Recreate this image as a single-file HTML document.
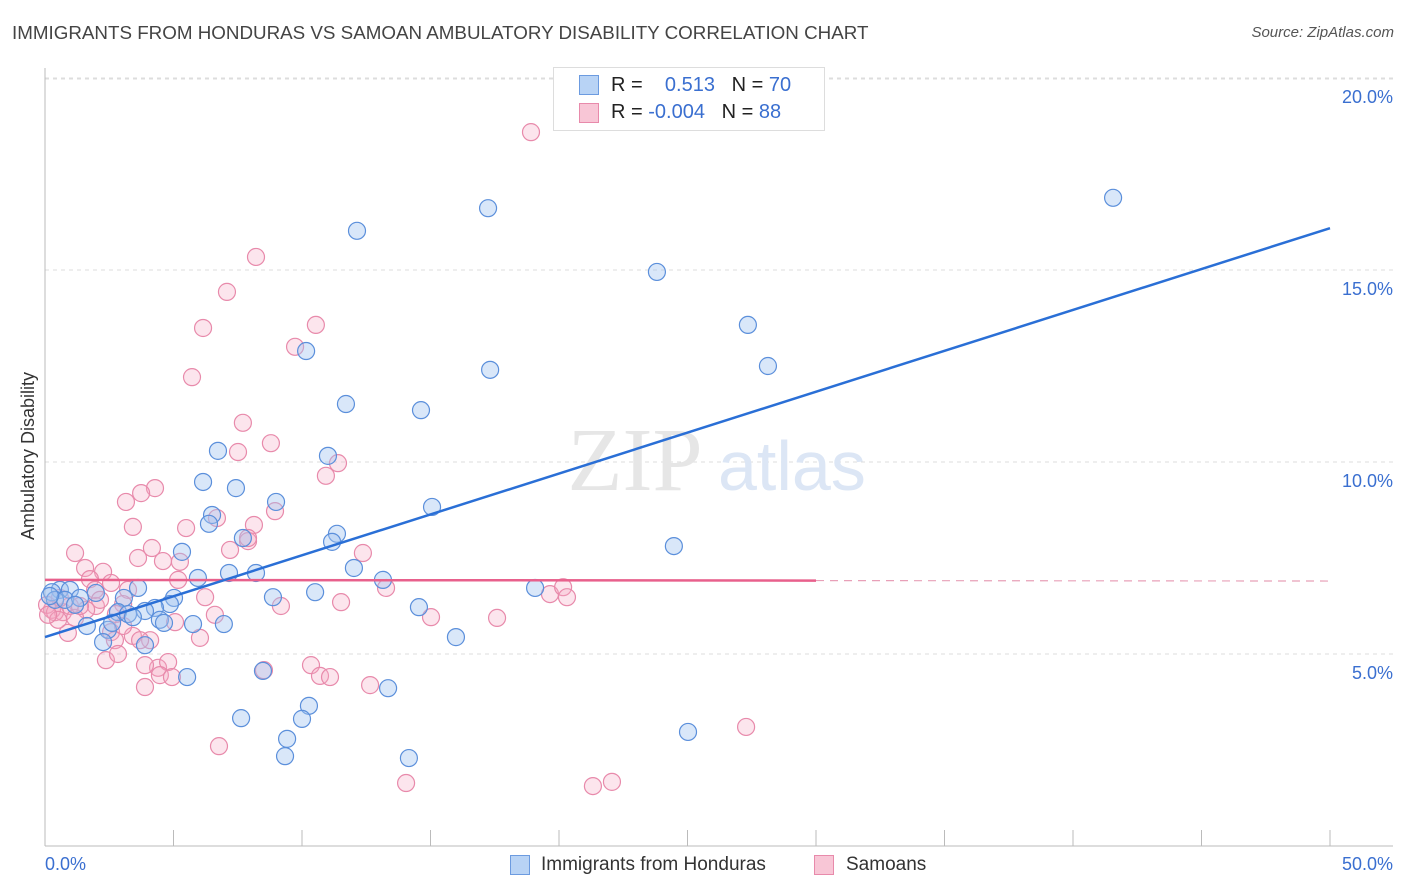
<!DOCTYPE html>
<html><head><meta charset="utf-8"><style>
body{margin:0;background:#fff;font-family:"Liberation Sans",sans-serif;}
#wrap{position:relative;width:1406px;height:892px;overflow:hidden;}
.t{position:absolute;white-space:nowrap;}
</style></head><body>
<div id="wrap">
<div class="t" style="left:12px;top:22px;font-size:18.8px;color:#444;">IMMIGRANTS FROM HONDURAS VS SAMOAN AMBULATORY DISABILITY CORRELATION CHART</div>
<div class="t" style="right:12px;top:24px;font-size:15px;color:#555;font-style:italic;">Source: ZipAtlas.com</div>
<svg id="chart" width="1406" height="892" style="position:absolute;left:0;top:0"></svg>
</div>
<script>
const xTicks=[0,5,10,15,20,25,30,35,40,45,50];
const yTicks=[5,10,15,20];
const yTickLabels=["5.0%","10.0%","15.0%","20.0%"];
const blueX=[41.56,17.24,12.14,23.81,27.35,28.13,10.16,17.32,11.71,14.63,6.73,11.01,6.15,7.43,8.99,15.06,6.50,6.38,7.70,11.36,11.17,24.47,5.33,12.02,7.16,8.21,5.95,13.15,3.62,10.51,19.07,8.87,5.02,4.86,14.55,3.07,4.28,3.89,2.84,3.23,3.42,4.47,4.63,5.76,6.96,1.63,2.45,2.26,3.89,15.99,0.58,0.27,0.97,0.39,0.78,1.98,1.36,5.53,8.48,13.35,7.63,10.27,10.00,9.42,14.16,9.34,25.02,2.61,0.19,1.17];
const blueY=[16.88,16.61,16.02,14.95,13.57,12.5,12.89,12.40,11.51,11.35,10.29,10.16,9.48,9.32,8.96,8.83,8.62,8.39,8.02,8.13,7.92,7.81,7.66,7.24,7.11,7.11,6.98,6.93,6.72,6.61,6.72,6.48,6.46,6.30,6.22,6.46,6.20,6.12,6.09,6.04,5.96,5.89,5.81,5.78,5.78,5.73,5.63,5.31,5.23,5.44,6.67,6.61,6.67,6.41,6.41,6.59,6.46,4.40,4.56,4.11,3.33,3.65,3.31,2.79,2.29,2.34,2.97,5.81,6.51,6.28];
const pinkX=[18.91,8.21,7.08,6.15,10.54,9.73,5.72,7.70,8.79,7.51,11.40,10.93,4.28,3.74,3.15,6.69,8.95,3.42,5.49,8.13,7.90,7.20,4.16,1.17,3.62,4.59,5.25,12.37,7.90,1.56,2.26,1.75,5.18,2.57,3.23,6.23,13.27,19.65,20.16,20.31,11.52,9.18,1.98,3.04,1.60,0.70,0.27,0.08,0.97,2.76,6.61,15.02,17.59,5.06,1.17,3.42,2.57,0.89,4.09,6.03,2.72,2.37,2.84,4.40,3.89,4.79,4.47,4.94,8.52,10.35,10.70,11.09,12.65,3.89,6.77,14.05,21.32,22.06,27.28,0.39,0.58,1.36,1.95,3.04,3.70,0.51,0.12,2.14];
const pinkY=[18.59,15.34,14.43,13.49,13.57,13.0,12.21,11.02,10.49,10.26,9.97,9.64,9.32,9.19,8.96,8.54,8.72,8.31,8.28,8.36,7.94,7.71,7.76,7.63,7.50,7.42,7.40,7.63,8.02,7.24,7.14,6.95,6.93,6.85,6.67,6.48,6.72,6.56,6.74,6.48,6.35,6.25,6.25,6.30,6.15,6.09,6.15,6.28,6.25,6.04,6.02,5.96,5.94,5.83,5.94,5.47,5.57,5.55,5.36,5.42,5.36,4.84,5.0,4.64,4.71,4.79,4.45,4.40,4.58,4.71,4.43,4.40,4.19,4.14,2.60,1.64,1.56,1.67,3.10,6.09,6.46,6.25,6.67,5.73,5.36,5.89,6.02,6.41];
const blueTrend=[5.44,16.09];
const pinkTrend=[6.93,6.90];
const pinkSolidEnd=30;

const X0=45,X1=1330,YB=846,PPU=38.4;
const sx=v=>X0+(v/50)*(X1-X0);
const sy=v=>YB-v*PPU;
const svg=document.getElementById('chart');
const NS='http://www.w3.org/2000/svg';
function mk(tag,attrs){const e=document.createElementNS(NS,tag);for(const k in attrs)e.setAttribute(k,attrs[k]);svg.appendChild(e);return e;}

yTicks.forEach((v,i)=>{
  const g=mk('line',{x1:X0,x2:1393,y1:sy(v),y2:sy(v),stroke:'#ddd','stroke-dasharray':'4,4'});
  
  
  const t=mk('text',{x:1393,y:sy(v)+25,'text-anchor':'end','font-size':18,fill:'#3a6fd0','font-family':'Liberation Sans, sans-serif'});
  t.textContent=yTickLabels[i];
  
  
});
const gt=mk('line',{x1:X0,x2:1393,y1:79,y2:79,stroke:'#ddd','stroke-dasharray':'4,4'});


const ya=mk('line',{x1:X0,x2:X0,y1:68,y2:846,stroke:'#bbb'});


const xa=mk('line',{x1:X0,x2:1393,y1:846,y2:846,stroke:'#bbb'});


xTicks.forEach(v=>{
  const l=mk('line',{x1:sx(v),x2:sx(v),y1:830,y2:846,stroke:'#bbb'});
  
  
});
const xl0=mk('text',{x:45,y:870,'font-size':18,fill:'#3a6fd0','font-family':'Liberation Sans, sans-serif'});xl0.textContent='0.0%';


const xl1=mk('text',{x:1393,y:870,'text-anchor':'end','font-size':18,fill:'#3a6fd0','font-family':'Liberation Sans, sans-serif'});xl1.textContent='50.0%';


const yt=mk('text',{x:0,y:0,'font-size':18,fill:'#333','text-anchor':'middle',transform:'translate(34,456) rotate(-90)','font-family':'Liberation Sans, sans-serif'});yt.textContent='Ambulatory Disability';


const wm=mk('text',{x:635,y:490,'text-anchor':'middle','font-size':90,fill:'#e6e6e6','font-family':'Liberation Serif, serif'});wm.textContent='ZIP';


const wm2=mk('text',{x:718,y:490,'font-size':70,fill:'#dce6f5','font-family':'Liberation Sans, sans-serif'});wm2.textContent='atlas';


pinkX.forEach((x,i)=>{
  const c=mk('circle',{cx:sx(x),cy:sy(pinkY[i]),r:8.5,fill:'rgba(244,170,195,0.3)',stroke:'#e88aab','stroke-width':1.2});
  
  
});
blueX.forEach((x,i)=>{
  const c=mk('circle',{cx:sx(x),cy:sy(blueY[i]),r:8.5,fill:'rgba(160,195,240,0.4)',stroke:'#5b8fdb','stroke-width':1.2});
  
  
});
const pt=v=>pinkTrend[0]+(pinkTrend[1]-pinkTrend[0])*v/50;
const p1=mk('line',{x1:sx(0),y1:sy(pt(0)),x2:sx(pinkSolidEnd),y2:sy(pt(pinkSolidEnd)),stroke:'#e8608c','stroke-width':2.5});


const p2=mk('line',{x1:sx(pinkSolidEnd),y1:sy(pt(pinkSolidEnd)),x2:sx(50),y2:sy(pt(50)),stroke:'#e8a0b8','stroke-width':1.2,'stroke-dasharray':'8,6'});


const b1=mk('line',{x1:sx(0),y1:sy(blueTrend[0]),x2:sx(50),y2:sy(blueTrend[1]),stroke:'#2a6fd6','stroke-width':2.5});


</script>
<div class="t" style="left:553px;top:67px;width:270px;height:62px;border:1px solid #ddd;background:#fff;">
  <div class="t" style="left:25px;top:7px;width:20px;height:20px;background:#b8d3f5;border:1px solid #6c9be0;box-sizing:border-box;"></div>
  <div class="t" style="left:25px;top:35px;width:20px;height:20px;background:#f8c6d6;border:1px solid #e88aab;box-sizing:border-box;"></div>
  <div class="t" style="left:57px;top:6px;font-size:20px;color:#222;">R = &nbsp;&nbsp;&nbsp;<span style="color:#3a6fd0">0.513</span>&nbsp;&nbsp;&nbsp;N = <span style="color:#3a6fd0">70</span></div>
  <div class="t" style="left:57px;top:33px;font-size:20px;color:#222;">R = <span style="color:#3a6fd0">-0.004</span>&nbsp;&nbsp;&nbsp;N = <span style="color:#3a6fd0">88</span></div>
</div>
<div class="t" style="left:510px;top:855px;width:20px;height:20px;background:#b8d3f5;border:1px solid #6c9be0;box-sizing:border-box;"></div>
<div class="t" style="left:541px;top:854px;font-size:19px;color:#333;">Immigrants from Honduras</div>
<div class="t" style="left:814px;top:855px;width:20px;height:20px;background:#f8c6d6;border:1px solid #e88aab;box-sizing:border-box;"></div>
<div class="t" style="left:846px;top:854px;font-size:19px;color:#333;">Samoans</div>
</body></html>
